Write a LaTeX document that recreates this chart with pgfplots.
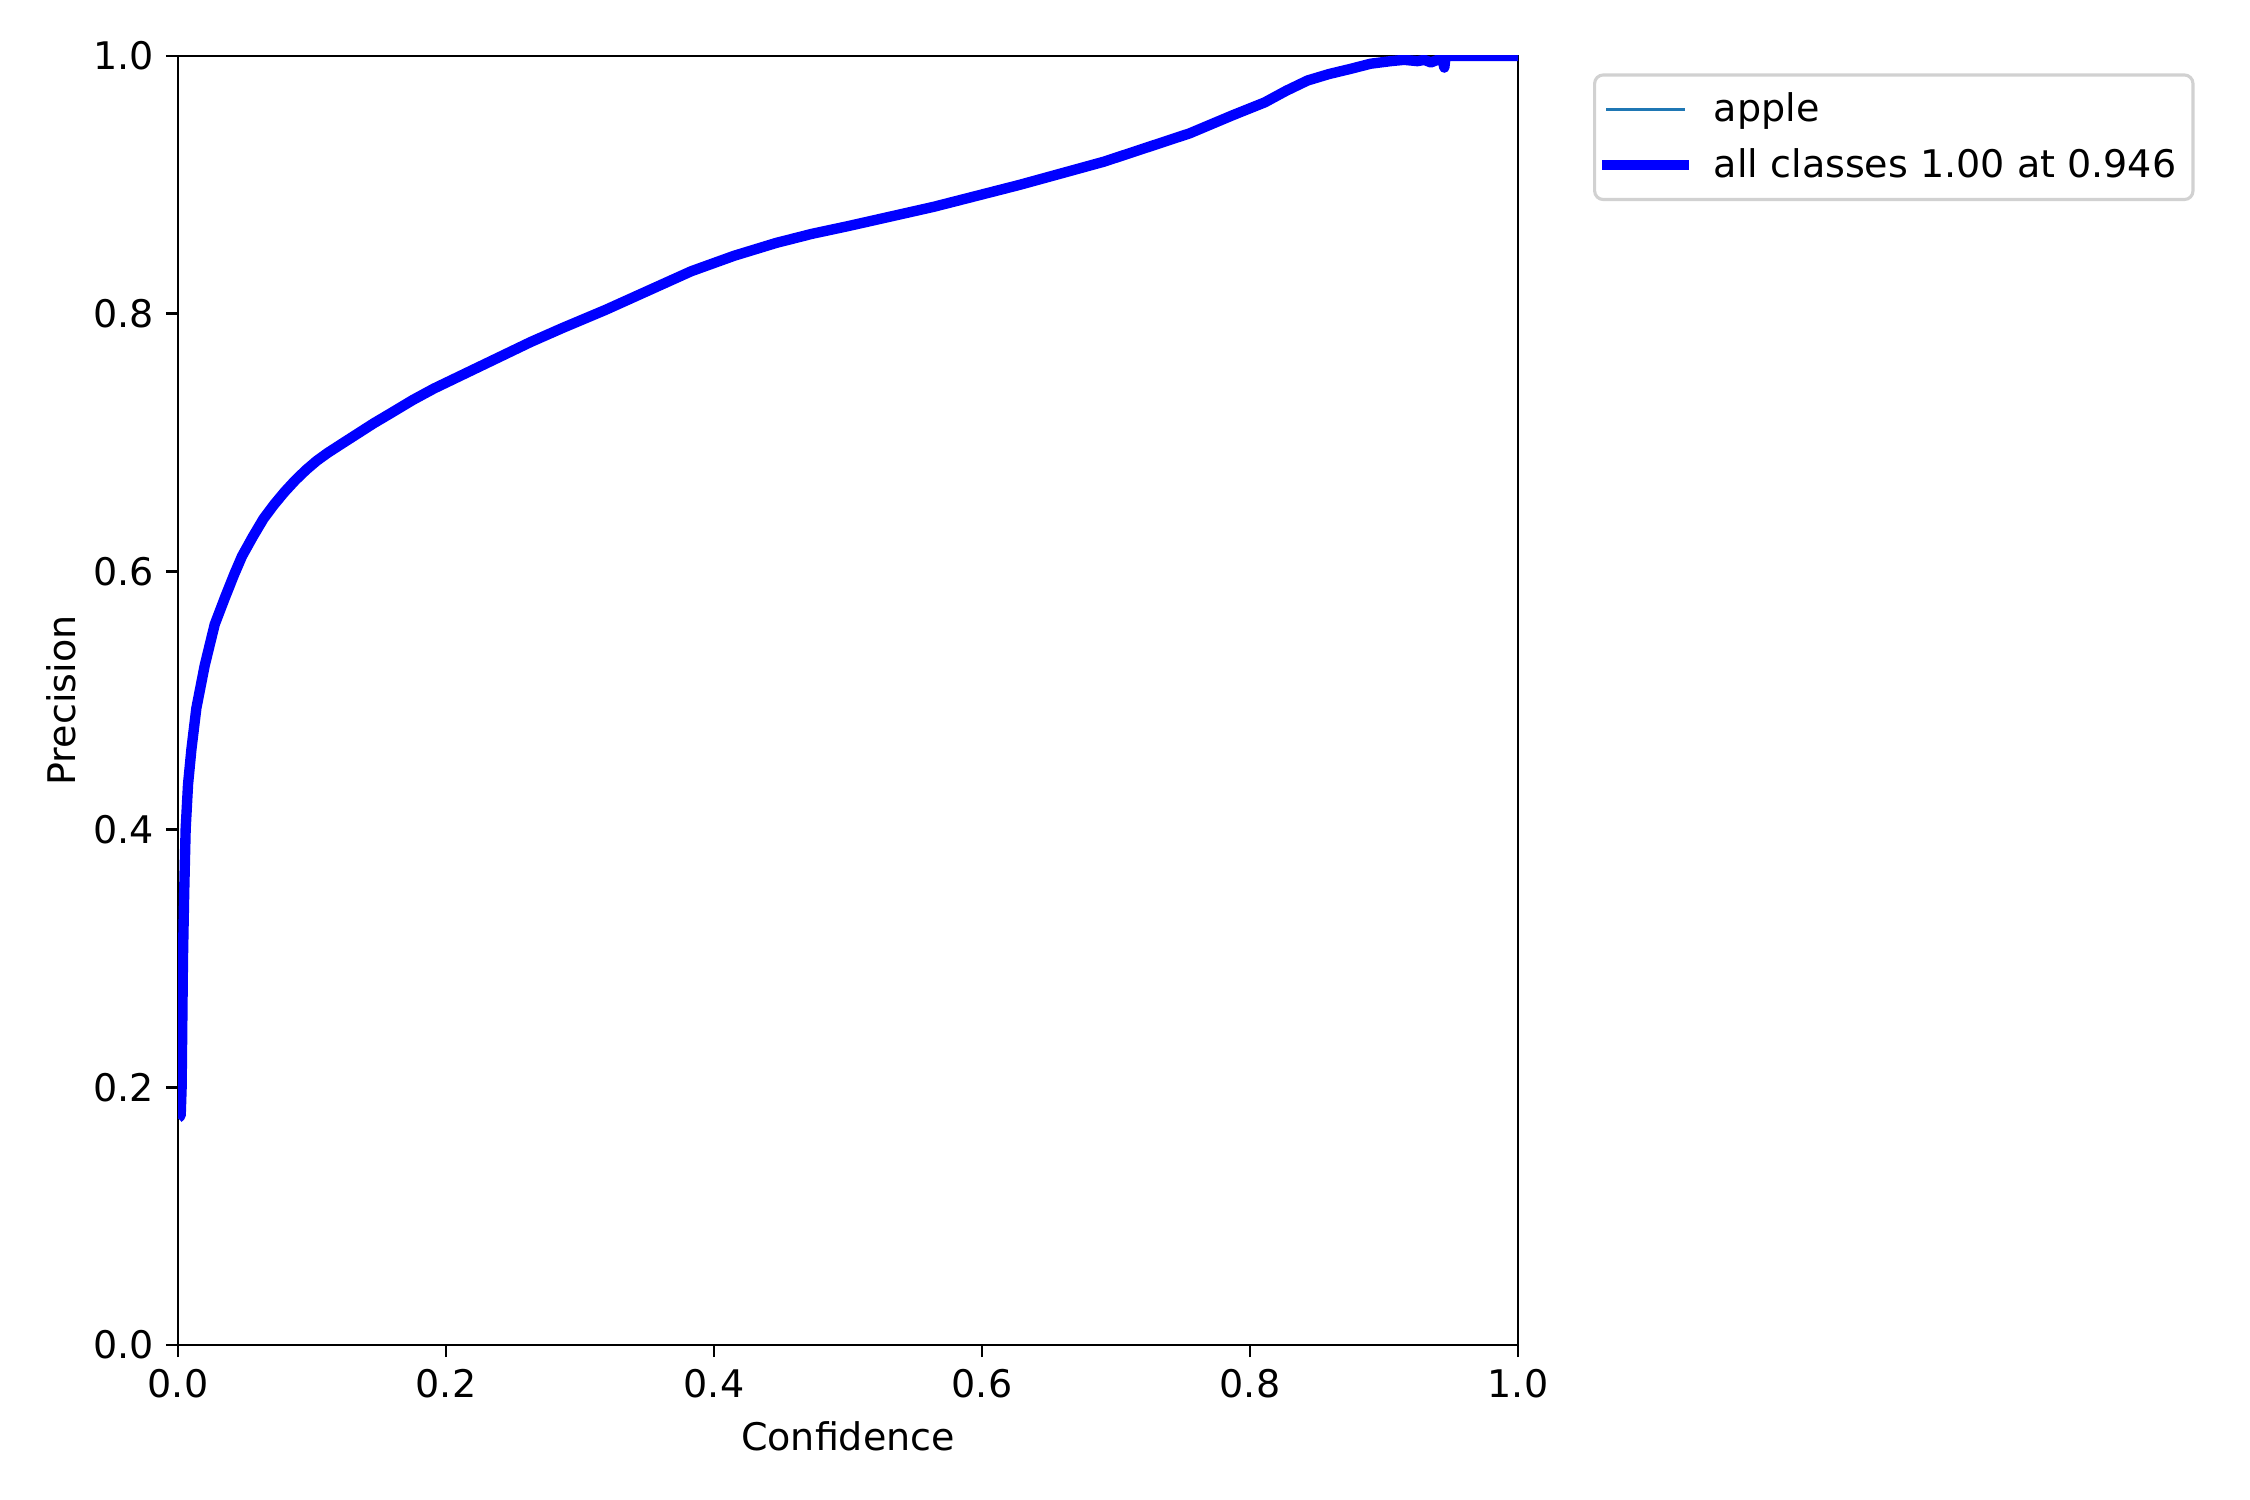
\documentclass[border=0pt]{standalone}
\usepackage{fontspec}
\setmainfont{DejaVu Sans}
\usepackage{pgfplots}
\pgfplotsset{compat=1.18}
\definecolor{tabblue}{HTML}{1F77B4}

\begin{document}
\begin{tikzpicture}[font=\fontsize{11pt}{13pt}\selectfont]
\useasboundingbox (-0.712in,-0.62in) rectangle (8.288in,5.38in);
\begin{axis}[
    at={(0,0)}, anchor=south west,
    scale only axis,
    width=5.36in, height=5.156in,
    xmin=0, xmax=1, ymin=0, ymax=1,
    xtick={0,0.2,0.4,0.6,0.8,1.0},
    ytick={0,0.2,0.4,0.6,0.8,1.0},
    xtick pos=bottom, ytick pos=left,
    tick align=outside,
    major tick length=3.5pt,
    every tick/.style={black, line width=0.8pt},
    axis line style={line width=0.8pt},
    /pgf/number format/.cd, fixed, fixed zerofill, precision=1,
    assume math mode=true,
    /pgfplots/.cd,
    xlabel={Confidence},
    ylabel={Precision},
    xlabel style={at={(axis description cs:0.5,-0.0711)}, anchor=center},
    ylabel style={at={(axis description cs:-0.0873,0.5)}, anchor=center},
    legend cell align=left,
    legend image code/.code={\draw[#1, line cap=rect] (0pt,0pt) -- (22pt,0pt);},
    legend style={
        at={(axis description cs:1.056,0.9865)}, anchor=north west,
        draw=black!18, line width=0.9pt, rounded corners=2.5pt,
        inner xsep=2.2pt, inner ysep=3.5pt, row sep=3.3pt, column sep=7.3pt,
        nodes={inner xsep=0pt, inner ysep=1.5pt},
    },
]

% per-class curve (drawn underneath the mean)
\addplot[color=tabblue, line width=1pt, line join=round] coordinates {
(0.000,0.176)(0.002,0.178)(0.0027,0.20)(0.0032,0.25)(0.0037,0.30)
(0.0046,0.35)(0.0057,0.40)(0.0075,0.435)(0.0100,0.462)(0.0137,0.494)
(0.0199,0.527)(0.0274,0.559)(0.0351,0.580)(0.0420,0.598)(0.0478,0.612)
(0.0558,0.627)(0.0638,0.641)(0.0717,0.652)(0.0797,0.662)(0.0877,0.671)
(0.0957,0.679)(0.1036,0.686)(0.1116,0.692)(0.122,0.699)(0.134,0.707)
(0.146,0.715)(0.159,0.723)(0.175,0.733)(0.191,0.742)(0.215,0.754)
(0.239,0.766)(0.263,0.778)(0.287,0.789)(0.319,0.803)(0.351,0.818)
(0.383,0.833)(0.415,0.845)(0.4465,0.855)(0.473,0.862)(0.500,0.868)
(0.564,0.883)(0.628,0.900)(0.691,0.918)(0.723,0.929)(0.755,0.940)
(0.787,0.954)(0.811,0.964)(0.827,0.973)(0.843,0.981)(0.859,0.986)
(0.875,0.990)(0.890,0.994)(0.905,0.996)(0.915,0.997)
(0.925,0.996)(0.930,0.997)(0.935,0.995)(0.940,0.997)(0.944,0.996)
(0.945,0.991)(0.946,1.0)(1.0,1.0)
};
\addlegendentry{apple}

% mean over all classes
\addplot[color=blue, line width=3pt, line join=round] coordinates {
(0.000,0.176)(0.002,0.178)(0.0027,0.20)(0.0032,0.25)(0.0037,0.30)
(0.0046,0.35)(0.0057,0.40)(0.0075,0.435)(0.0100,0.462)(0.0137,0.494)
(0.0199,0.527)(0.0274,0.559)(0.0351,0.580)(0.0420,0.598)(0.0478,0.612)
(0.0558,0.627)(0.0638,0.641)(0.0717,0.652)(0.0797,0.662)(0.0877,0.671)
(0.0957,0.679)(0.1036,0.686)(0.1116,0.692)(0.122,0.699)(0.134,0.707)
(0.146,0.715)(0.159,0.723)(0.175,0.733)(0.191,0.742)(0.215,0.754)
(0.239,0.766)(0.263,0.778)(0.287,0.789)(0.319,0.803)(0.351,0.818)
(0.383,0.833)(0.415,0.845)(0.4465,0.855)(0.473,0.862)(0.500,0.868)
(0.564,0.883)(0.628,0.900)(0.691,0.918)(0.723,0.929)(0.755,0.940)
(0.787,0.954)(0.811,0.964)(0.827,0.973)(0.843,0.981)(0.859,0.986)
(0.875,0.990)(0.890,0.994)(0.905,0.996)(0.915,0.997)
(0.925,0.996)(0.930,0.997)(0.935,0.995)(0.940,0.997)(0.944,0.996)
(0.945,0.991)(0.946,1.0)(1.0,1.0)
};
\addlegendentry{all classes 1.00 at 0.946\hspace*{2.6pt}}

\end{axis}
\end{tikzpicture}
\end{document}
